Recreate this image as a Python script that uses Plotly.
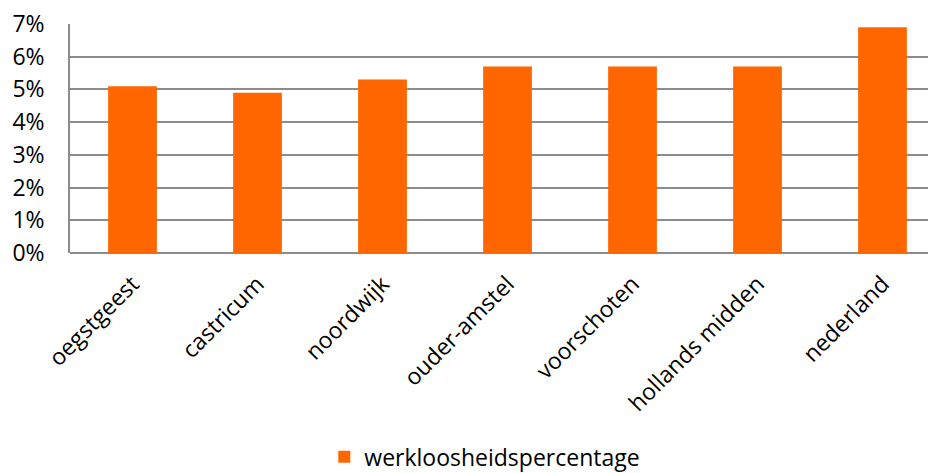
import plotly.graph_objects as go

# gemeenten / regio's en werkloosheid (fractie)
gemeenten = ["oegstgeest", "castricum", "noordwijk", "ouder-amstel",
             "voorschoten", "hollands midden", "nederland"]
werkloosheid = [0.051, 0.049, 0.053, 0.057, 0.057, 0.057, 0.069]
y_ticks = [0, 0.01, 0.02, 0.03, 0.04, 0.05, 0.06, 0.07]

font_family = "Open Sans, Noto Sans, sans-serif"

fig = go.Figure()
fig.add_trace(go.Bar(
    x=gemeenten,
    y=werkloosheid,
    name="werkloosheidspercentage",
    marker=dict(color="#ff6600", line=dict(width=0)),
    showlegend=True,
))

# page body has an 8px margin, so the figure is a bit smaller than the window
fig.update_layout(
    width=928,
    height=465,
    margin=dict(l=62, r=0, t=16, b=220, autoexpand=False),
    paper_bgcolor="white",
    plot_bgcolor="white",
    bargap=0.61,
    font=dict(family=font_family, size=23, color="#000000"),
    legend=dict(
        orientation="h",
        x=0.479, xanchor="center",
        y=-0.89, yanchor="middle",
        font=dict(size=23),
        itemwidth=30,
    ),
)

fig.update_xaxes(
    type="category",
    range=[-0.5, 6.428],
    tickangle=-45,
    ticklabelstandoff=12,
    tickfont=dict(size=23),
    showgrid=False,
    showline=False,
    ticks="",
)

fig.update_yaxes(
    range=[0, 0.07],
    tickvals=y_ticks,
    tickformat=".0%",
    ticklabeloverflow="allow",
    showgrid=True,
    gridcolor="#8c8c8c",
    gridwidth=1.5,
    zeroline=True,
    zerolinecolor="#8c8c8c",
    zerolinewidth=1.5,
    showline=True,
    linecolor="#8c8c8c",
    linewidth=1.5,
    ticks="",
    ticklabelstandoff=19,
)

fig.write_html("out.html")
